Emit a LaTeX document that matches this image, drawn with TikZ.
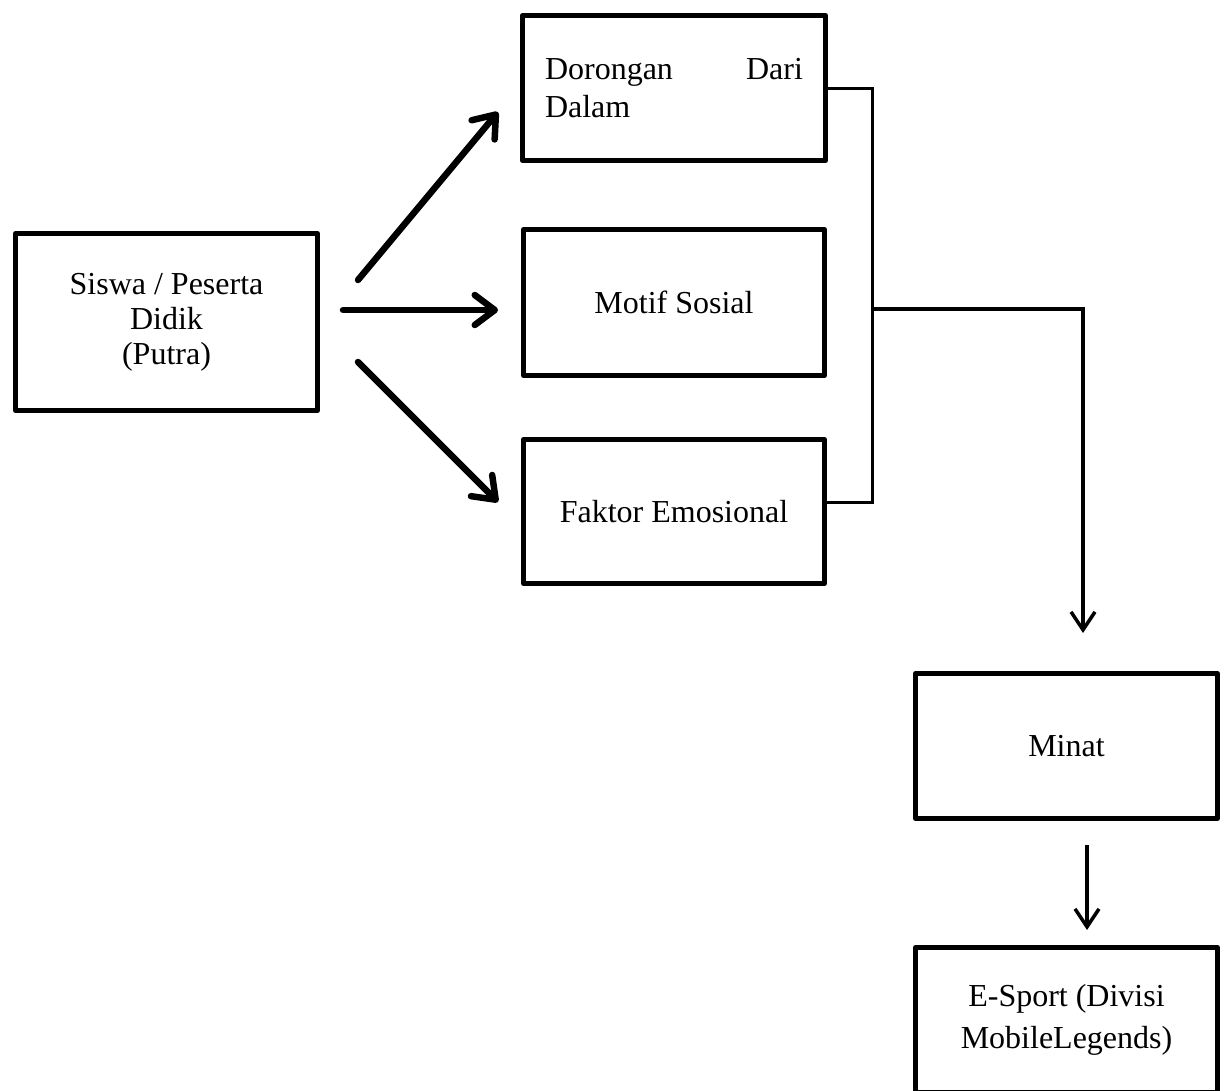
\documentclass[tikz,border=0pt]{standalone}
\usepackage{fontspec}
\setmainfont{Liberation Serif}
\usetikzlibrary{arrows.meta}
\begin{document}
\begin{tikzpicture}[x=1pt,y=-1pt,
  box/.style={draw, line width=5pt, line join=round, rectangle, minimum width=302pt,
    minimum height=145pt, inner sep=0pt, align=center,
    font=\fontsize{32}{36}\selectfont},
  thickarrow/.style={line width=6.5pt, line cap=round,
    -{Straight Barb[length=20pt,width=30pt,round]}},
  thinline/.style={line width=3pt},
  thinarrow/.style={line width=3.5pt,
    -{Straight Barb[length=18pt,width=24pt]}}
]
\clip (0,0) rectangle (1229,1090);
\useasboundingbox (0,0) rectangle (1229,1090);

\node[box, minimum height=177pt, font=\fontsize{32}{35}\selectfont] (siswa) at (166.5,322)
  {Siswa / Peserta\\Didik\\(Putra)};
\node[box, minimum width=303pt, text width=258pt, align=left,
  font=\fontsize{32}{38}\selectfont] (dor) at (674,88) {Dorongan\hfill Dari\\Dalam};
\node[box, minimum width=301pt, minimum height=146pt] (mot) at (674,302.5) {Motif Sosial};
\node[box, minimum width=301pt, minimum height=144pt] (fak) at (674,511.5) {Faktor Emosional};
\node[box] (minat) at (1066.5,746) {Minat};
\node[box, font=\fontsize{32}{42}\selectfont] (esp) at (1066.5,1020)
  {E-Sport (Divisi\\MobileLegends)};

\draw[thickarrow] ([shift={(38pt,42pt)}]siswa.east) -- ([shift={(-22pt,-24pt)}]dor.west);
\draw[thickarrow] ([shift={(23pt,12pt)}]siswa.east) -- ([shift={(-23pt,-7.5pt)}]mot.west);
\draw[thickarrow] ([shift={(38pt,-40pt)}]siswa.east) -- ([shift={(-23pt,9.5pt)}]fak.west);

\coordinate (j) at (872,309);
\coordinate (k) at (1083,309);
\coordinate (tip) at (1083,633);
\draw[thinline] (dor.east) -| (j);
\draw[thinline] ([yshift=9.5pt]fak.east) -| (j);
\draw[thinarrow] (j) -- (k) -- (tip);

\draw[thinarrow] ([shift={(20.5pt,-24pt)}]minat.south) -- ([shift={(20.5pt,15pt)}]esp.north);
\end{tikzpicture}
\end{document}
